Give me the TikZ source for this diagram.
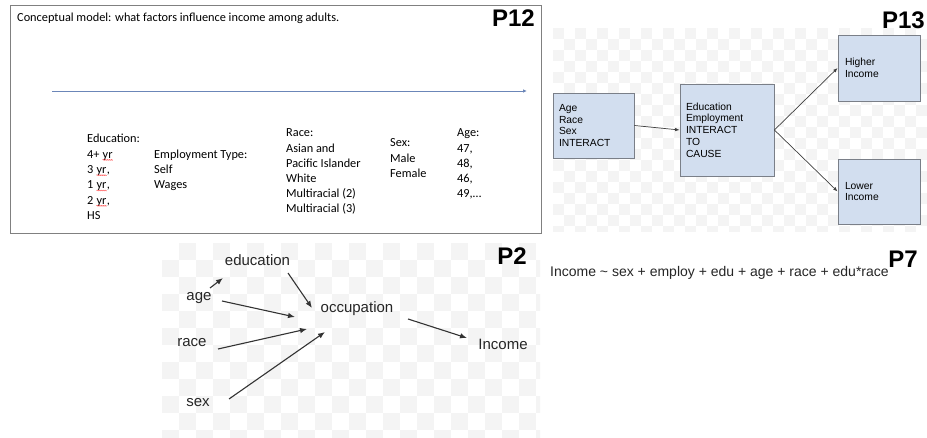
\documentclass[tikz,border=0pt]{standalone}
\usepackage{fontspec}
\setmainfont{Liberation Sans}
\newfontfamily\calfont{Carlito}
\usetikzlibrary{arrows.meta,decorations.pathmorphing,calc}
\definecolor{chk}{HTML}{F4F4F4}
\definecolor{boxfill}{HTML}{D2DEEF}
\definecolor{boxline}{HTML}{7A7F88}
\definecolor{arrblue}{HTML}{6B86B8}
\definecolor{darkarr}{HTML}{333333}
\newcommand\sqg[1]{\tikz[baseline=(w.base),x=1pt,y=1pt]{\node[inner sep=0pt] (w) {#1};
  \draw[red!75,line width=0.4pt,decorate,decoration={snake,amplitude=0.5pt,segment length=2pt}] ([yshift=-1.6pt]w.base west) -- ([yshift=-1.6pt]w.base east);}}
\tikzset{
  plabel/.style={font=\fontsize{24}{24}\selectfont\bfseries, inner sep=0pt, anchor=east},
  calline/.style={font=\calfont\fontsize{12.3}{15}\selectfont, inner sep=0pt, anchor=base west},
  flowbox/.style={draw=boxline, fill=boxfill, line width=0.8pt, align=left, inner xsep=6pt,
     font=\fontsize{10.3}{11.7}\selectfont},
  dagtext/.style={font=\fontsize{15}{18}\selectfont, inner sep=0pt, text=black!85},
  dagarr/.style={draw=darkarr, line width=1.1pt, -{Latex[length=7pt,width=5.5pt]}},
  flowarr/.style={draw=black!75, line width=0.7pt, -{Latex[length=4.5pt,width=3.5pt]}},
}
\begin{document}
\begin{tikzpicture}[x=1pt,y=-1pt]
\useasboundingbox (0,0) rectangle (927,438);
\fill[white] (0,0) rectangle (927,438);

% ---------------- P12 ----------------
\draw[draw=black!50, line width=0.9pt] (10,5) rectangle (541,233);
\node[calline] (cap) at (17,22) {Conceptual model: what factors influence income among adults.};
\coordinate (a0) at (52,91);
\coordinate (a1) at (527,91);
\draw[arrblue, line width=0.8pt, -{Latex[length=4pt,width=3.5pt]}] (a0) -- (a1);
\node[plabel] (p12) at (535,18.5) {P12};

\foreach \t [count=\i] in {Education:, 4+ \sqg{yr}, {3 \sqg{yr},}, {1 \sqg{yr},}, {2 \sqg{yr},}, HS}
  \node[calline] (ed\i) at (87,{143+15.3*(\i-1)}) {\t};
\foreach \t [count=\i] in {Employment Type:, Self, Wages}
  \node[calline] (em\i) at (154,{158.5+15.2*(\i-1)}) {\t};
\foreach \t [count=\i] in {Race:, Asian and, Pacific Islander, White, Multiracial (2), Multiracial (3)}
  \node[calline] (ra\i) at (286,{137+15.2*(\i-1)}) {\t};
\foreach \t [count=\i] in {Sex:, Male, Female}
  \node[calline] (sx\i) at (390,{147+15.2*(\i-1)}) {\t};
\foreach \t [count=\i] in {Age:, {47,}, {48,}, {46,}, {49,\ldots}}
  \node[calline] (ag\i) at (457,{137+15.2*(\i-1)}) {\t};

% ---------------- P13 ----------------
\begin{scope}
\clip (553,28) rectangle (927,232);
\foreach \i in {0,...,34}
  \foreach \j in {0,...,18}{
    \pgfmathtruncatemacro\pp{mod(\i+\j,2)}
    \ifnum\pp=0 \fill[chk] ({553+11*\i},{28+11*\j}) rectangle ++(11,11);\fi
  }
\end{scope}
\node[plabel] (p13) at (925,20) {P13};
\node[flowbox, minimum width=81pt, minimum height=65pt, text width=69pt] (b1) at (593.5,125.5)
  {Age\\Race\\Sex\\INTERACT};
\node[flowbox, minimum width=94pt, minimum height=92pt, text width=82pt] (b2) at (727,130)
  {Education\\Employment\\INTERACT\\TO\\CAUSE};
\node[flowbox, minimum width=82pt, minimum height=66pt, text width=68pt, inner xsep=7pt] (b3) at (879,68)
  {Higher\\Income};
\node[flowbox, minimum width=82pt, minimum height=65pt, text width=68pt, inner xsep=7pt] (b4) at (879,191.5)
  {Lower\\Income};
\draw[flowarr] (b1.east) -- (b2.west);
\draw[flowarr] (b2.east) -- (b3.west);
\draw[flowarr] (b2.east) -- (b4.west);

% ---------------- P2 ----------------
\begin{scope}
\clip (162,243) rectangle (540,438);
\foreach \i in {0,...,22}
  \foreach \j in {0,...,11}{
    \pgfmathtruncatemacro\pp{mod(\i+\j,2)}
    \ifnum\pp=1 \fill[chk] ({162+17*\i},{243+17*\j}) rectangle ++(17,17);\fi
  }
\end{scope}
\node[plabel] (p2) at (527,256) {P2};
\node[dagtext] (edu) at (257.5,260) {education};
\node[dagtext] (age) at (199,298) {age};
\node[dagtext] (race) at (192,343) {race};
\node[dagtext] (sex) at (198,403) {sex};
\node[dagtext] (occ) at (357,309) {occupation};
\node[dagtext] (inc) at (503,344) {Income};
\draw[dagarr] ([shift={(11,-10)}]age.center) -- ([shift={(-34.5,18)}]edu.center);
\draw[dagarr] ([shift={(30.5,13)}]edu.center) -- ([shift={(-45,-1)}]occ.center);
\draw[dagarr] ([shift={(23,3)}]age.center) -- ([shift={(-62,8)}]occ.center);
\draw[dagarr] ([shift={(26,6)}]race.center) -- ([shift={(-50,20)}]occ.center);
\draw[dagarr] ([shift={(31,-4)}]sex.center) -- ([shift={(-32,23)}]occ.center);
\draw[dagarr] ([shift={(51,10)}]occ.center) -- ([shift={(-36,-6)}]inc.center);

% ---------------- P7 ----------------
\node[plabel] (p7) at (918,259) {P7};
\node[font=\fontsize{14}{16}\selectfont, inner sep=0pt, anchor=base west, text=black!85] (formula) at (550,277)
  {Income \textasciitilde{} sex + employ + edu + age + race + edu*race};
\end{tikzpicture}
\end{document}
